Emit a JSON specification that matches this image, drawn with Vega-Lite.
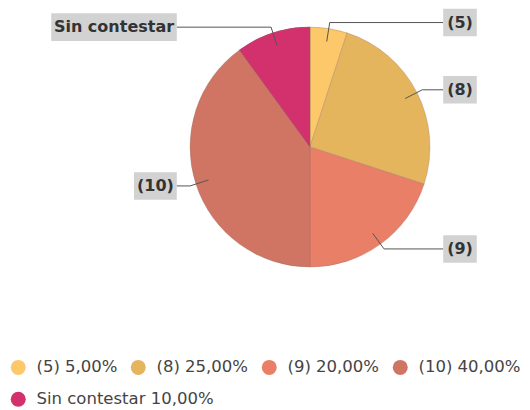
{
  "$schema": "https://vega.github.io/schema/vega-lite/v6.json",
  "width": 530,
  "height": 410,
  "autosize": {"type": "none"},
  "padding": 0,
  "background": "white",
  "config": {
    "view": {"stroke": null},
    "legend": {
      "title": null,
      "orient": "none",
      "direction": "horizontal",
      "symbolType": "circle",
      "symbolSize": 225,
      "symbolStrokeWidth": 0,
      "symbolOpacity": 1,
      "labelFont": "DejaVu Sans",
      "labelFontSize": 16.5,
      "labelColor": "#444444",
      "labelOffset": 10,
      "labelLimit": 400,
      "columnPadding": 12
    }
  },
  "data": {
    "values": [
      {"orden": 1, "etiqueta": "(5)", "leyenda": "(5) 5,00%", "pct": 5},
      {"orden": 2, "etiqueta": "(8)", "leyenda": "(8) 25,00%", "pct": 25},
      {"orden": 3, "etiqueta": "(9)", "leyenda": "(9) 20,00%", "pct": 20},
      {"orden": 4, "etiqueta": "(10)", "leyenda": "(10) 40,00%", "pct": 40},
      {"orden": 5, "etiqueta": "Sin contestar", "leyenda": "Sin contestar 10,00%", "pct": 10}
    ]
  },
  "transform": [
    {"window": [{"op": "sum", "field": "pct", "as": "cum"}], "sort": [{"field": "orden", "order": "ascending"}], "frame": [null, 0]},
    {"calculate": "datum.cum - datum.pct", "as": "start"},
    {"calculate": "(datum.cum - datum.pct / 2) / 100 * 2 * PI", "as": "mid"},
    {"calculate": "sin(datum.mid) >= 0 ? 1 : -1", "as": "side"},
    {"calculate": "0.89 * sin(datum.mid)", "as": "x0"},
    {"calculate": "0.89 * cos(datum.mid)", "as": "y0"},
    {"calculate": "1.05 * sin(datum.mid)", "as": "x1"},
    {"calculate": "1.05 * cos(datum.mid)", "as": "y1"},
    {"calculate": "datum.side * 1.11", "as": "x2"},
    {"calculate": "(9.2 * length(datum.etiqueta) + 6) / 120", "as": "w"},
    {"calculate": "datum.side * (1.11 + datum.w)", "as": "bx2"},
    {"calculate": "datum.side * (1.11 + datum.w / 2)", "as": "tx"},
    {"calculate": "datum.y1 - 0.115", "as": "yb1"},
    {"calculate": "datum.y1 + 0.115", "as": "yb2"}
  ],
  "layer": [
    {
      "mark": {"type": "arc", "outerRadius": 120, "stroke": "#8a7060", "strokeWidth": 0.5, "strokeOpacity": 0.6},
      "encoding": {
        "x": {"datum": 0, "type": "quantitative", "scale": {"domain": [-2.58333, 1.83333], "nice": false, "zero": false}, "axis": null},
        "y": {"datum": 0, "type": "quantitative", "scale": {"domain": [-2.19167, 1.225], "nice": false, "zero": false}, "axis": null},
        "theta": {"field": "start", "type": "quantitative", "scale": {"domain": [0, 100]}},
        "theta2": {"field": "cum"},
        "color": {
          "field": "leyenda",
          "type": "nominal",
          "scale": {
            "domain": ["(5) 5,00%", "(8) 25,00%", "(9) 20,00%", "(10) 40,00%", "Sin contestar 10,00%"],
            "range": ["#FDC86A", "#E5B55E", "#E97F67", "#D07563", "#D3306E"]
          },
          "legend": {
            "legendX": 10,
            "legendY": 359,
            "values": ["(5) 5,00%", "(8) 25,00%", "(9) 20,00%", "(10) 40,00%"]
          }
        }
      }
    },
    {
      "transform": [{"filter": "datum.orden == 5"}],
      "mark": {"type": "arc", "outerRadius": 120, "stroke": "#8a7060", "strokeWidth": 0.5, "strokeOpacity": 0.6},
      "encoding": {
        "x": {"datum": 0, "type": "quantitative", "scale": {"domain": [-2.58333, 1.83333], "nice": false, "zero": false}, "axis": null},
        "y": {"datum": 0, "type": "quantitative", "scale": {"domain": [-2.19167, 1.225], "nice": false, "zero": false}, "axis": null},
        "theta": {"field": "start", "type": "quantitative", "scale": {"domain": [0, 100]}},
        "theta2": {"field": "cum"},
        "fill": {
          "field": "leyenda",
          "type": "nominal",
          "scale": {"domain": ["Sin contestar 10,00%"], "range": ["#D3306E"]},
          "legend": {"legendX": 10, "legendY": 391}
        }
      }
    },
    {
      "mark": {"type": "rule", "color": "#555555", "strokeWidth": 1},
      "encoding": {
        "x": {"field": "x0", "type": "quantitative", "scale": {"domain": [-2.58333, 1.83333], "nice": false, "zero": false}, "axis": null},
        "y": {"field": "y0", "type": "quantitative", "scale": {"domain": [-2.19167, 1.225], "nice": false, "zero": false}, "axis": null},
        "x2": {"field": "x1"},
        "y2": {"field": "y1"}
      }
    },
    {
      "mark": {"type": "rule", "color": "#555555", "strokeWidth": 1},
      "encoding": {
        "x": {"field": "x1", "type": "quantitative", "scale": {"domain": [-2.58333, 1.83333], "nice": false, "zero": false}, "axis": null},
        "y": {"field": "y1", "type": "quantitative", "scale": {"domain": [-2.19167, 1.225], "nice": false, "zero": false}, "axis": null},
        "x2": {"field": "x2"},
        "y2": {"field": "y1"}
      }
    },
    {
      "mark": {"type": "rect", "color": "#D2D2D2"},
      "encoding": {
        "x": {"field": "x2", "type": "quantitative", "scale": {"domain": [-2.58333, 1.83333], "nice": false, "zero": false}, "axis": null},
        "x2": {"field": "bx2"},
        "y": {"field": "yb1", "type": "quantitative", "scale": {"domain": [-2.19167, 1.225], "nice": false, "zero": false}, "axis": null},
        "y2": {"field": "yb2"}
      }
    },
    {
      "mark": {"type": "text", "font": "DejaVu Sans", "fontSize": 16, "fontWeight": "bold", "color": "#333333", "align": "center", "baseline": "middle"},
      "encoding": {
        "x": {"field": "tx", "type": "quantitative", "scale": {"domain": [-2.58333, 1.83333], "nice": false, "zero": false}, "axis": null},
        "y": {"field": "y1", "type": "quantitative", "scale": {"domain": [-2.19167, 1.225], "nice": false, "zero": false}, "axis": null},
        "text": {"field": "etiqueta"}
      }
    }
  ]
}
